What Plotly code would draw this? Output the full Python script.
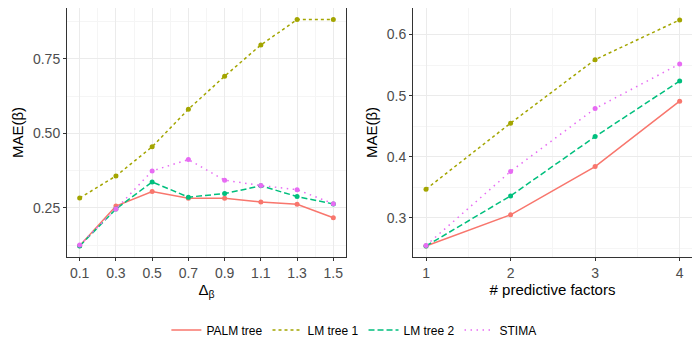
import plotly.graph_objects as go
from plotly.subplots import make_subplots

# left panel: MAE vs effect size
delta_beta = [0.1, 0.3, 0.5, 0.7, 0.9, 1.1, 1.3, 1.5]
palm_delta = [0.123, 0.256, 0.305, 0.282, 0.282, 0.270, 0.262, 0.217]
lm1_delta = [0.283, 0.357, 0.455, 0.581, 0.692, 0.797, 0.882, 0.882]
lm2_delta = [0.122, 0.246, 0.337, 0.286, 0.298, 0.324, 0.288, 0.263]
stima_delta = [0.125, 0.246, 0.374, 0.412, 0.343, 0.325, 0.311, 0.264]

# right panel: MAE vs number of predictive factors
n_factors = [1, 2, 3, 4]
palm_nf = [0.254, 0.305, 0.384, 0.491]
lm1_nf = [0.347, 0.455, 0.559, 0.624]
lm2_nf = [0.254, 0.336, 0.433, 0.524]
stima_nf = [0.255, 0.376, 0.479, 0.552]

methods = ["PALM tree", "LM tree 1", "LM tree 2", "STIMA"]
colors = ["#F8766D", "#A3A500", "#00BF7D", "#E76BF3"]
dashes = ["solid", "3px,3px", "6px,3px", "1.5px,4.5px"]

FONT = "Liberation Sans, Arial, sans-serif"

fig = make_subplots(rows=1, cols=2, horizontal_spacing=0.1072)
fig.update_layout(
    xaxis=dict(domain=[0, 0.4464]),
    xaxis2=dict(domain=[0.5536, 1]),
)

left = [palm_delta, lm1_delta, lm2_delta, stima_delta]
right = [palm_nf, lm1_nf, lm2_nf, stima_nf]
for i, name in enumerate(methods):
    for col, (xs, ys) in enumerate([(delta_beta, left[i]), (n_factors, right[i])], start=1):
        # line trace carries the legend entry (lines only, like ggplot)
        fig.add_trace(
            go.Scatter(
                x=xs, y=ys, mode="lines", name=name,
                legendgroup=name, showlegend=(col == 1),
                line=dict(color=colors[i], width=1.5, dash=dashes[i]),
            ),
            row=1, col=col,
        )
        fig.add_trace(
            go.Scatter(
                x=xs, y=ys, mode="markers", name=name,
                legendgroup=name, showlegend=False,
                marker=dict(color=colors[i], size=5),
            ),
            row=1, col=col,
        )

axis_common = dict(
    showline=True, linecolor="#333333", linewidth=1, mirror=True,
    gridcolor="#EBEBEB", gridwidth=1, zeroline=False, automargin=False,
    ticks="outside", ticklen=3, tickcolor="#333333",
    tickfont=dict(family=FONT, size=14, color="#4D4D4D"),
    title_font=dict(family=FONT, size=15, color="black"),
)

fig.update_xaxes(**axis_common)
fig.update_yaxes(**axis_common)

fig.update_xaxes(
    range=[0.03, 1.57], tickvals=delta_beta, ticktext=[str(v) for v in delta_beta],
    minor=dict(showgrid=True, gridcolor="#F5F5F5", tick0=0.0, dtick=0.2),
    title_text="Δ<sub>β</sub>", title_standoff=4, row=1, col=1,
)
fig.update_yaxes(
    range=[0.085, 0.921], tickvals=[0.25, 0.5, 0.75], ticktext=["0.25", "0.50", "0.75"],
    minor=dict(showgrid=True, gridcolor="#F5F5F5", tick0=0.125, dtick=0.25),
    title_text="MAE(β)", title_standoff=5, row=1, col=1,
)
fig.update_xaxes(
    range=[0.846, 4.146], tickvals=n_factors, ticktext=[str(v) for v in n_factors],
    minor=dict(showgrid=True, gridcolor="#F5F5F5", tick0=0.5, dtick=1),
    title_text="# predictive factors", title_standoff=4, row=1, col=2,
)
fig.update_yaxes(
    range=[0.236, 0.6435], tickvals=[0.3, 0.4, 0.5, 0.6], ticktext=["0.3", "0.4", "0.5", "0.6"],
    minor=dict(showgrid=True, gridcolor="#F5F5F5", tick0=0.25, dtick=0.1),
    title_text="MAE(β)", title_standoff=5, row=1, col=2,
)

# the page body adds an 8px offset, so the figure is 8px smaller each way
fig.update_layout(
    width=692, height=342,
    margin=dict(l=59, r=8, t=0, b=93),
    plot_bgcolor="white", paper_bgcolor="white",
    font=dict(family=FONT, size=12, color="black"),
    legend=dict(
        orientation="h", x=0.459, xanchor="center", y=-0.293, yanchor="middle",
        font=dict(family=FONT, size=12, color="black"),
        itemwidth=30, tracegroupgap=0,
    ),
)

fig.write_html("out.html")
